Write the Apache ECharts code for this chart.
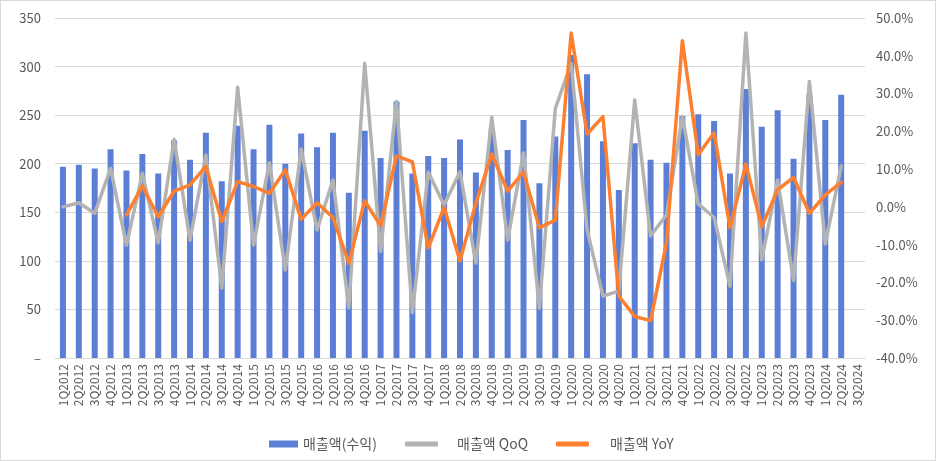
<!DOCTYPE html>
<html>
<head>
<meta charset="utf-8">
<script src="https://cdn.jsdelivr.net/npm/echarts@6/dist/echarts.min.js"></script>
<style>
  html, body { margin: 0; padding: 0; background: #fff; }
  #chart { width: 934px; height: 459px; border: 1px solid #d9d9d9; }
</style>
</head>
<body>
<div id="chart"></div>
<script>
const categories = ['1Q2012','2Q2012','3Q2012','4Q2012','1Q2013','2Q2013','3Q2013','4Q2013','1Q2014','2Q2014','3Q2014','4Q2014','1Q2015','2Q2015','3Q2015','4Q2015','1Q2016','2Q2016','3Q2016','4Q2016','1Q2017','2Q2017','3Q2017','4Q2017','1Q2018','2Q2018','3Q2018','4Q2018','1Q2019','2Q2019','3Q2019','4Q2019','1Q2020','2Q2020','3Q2020','4Q2020','1Q2021','2Q2021','3Q2021','4Q2021','1Q2022','2Q2022','3Q2022','4Q2022','1Q2023','2Q2023','3Q2023','4Q2023','1Q2024','2Q2024','3Q2024'];

const revenue = [197,199,195,215,193,210,190,224,204,232,182,239,215,240,200,231,217,232,170,234,206,264,190,208,206,225,191,236,214,245,180,228,312,292,223,173,221,204,201,249,251,244,190,277,238,255,205,271,245,271,null];

const qoq = [0,1.1,-1.7,10.2,-10.1,8.9,-9.5,17.9,-8.8,13.7,-21.5,31.7,-10.1,11.7,-16.7,15.3,-6.1,7.1,-26.7,38,-11.8,27.9,-28,9.2,0.5,9.3,-14.9,23.7,-8.8,14.3,-26.8,26,38,-6,-23.6,-22.3,28.3,-7.7,-2.1,23.9,0.8,-2.8,-21,46,-14,7.1,-19.5,33.2,-9.8,10.8,null];

const yoy = [null,null,null,null,-2.1,5.5,-2.6,4.2,5.8,10.7,-3.9,6.7,5.4,3.6,9.8,-3.3,1.1,-2.8,-14.9,1.6,-5,13.5,11.9,-10.9,-0.1,-14.3,1,14,4.2,9.2,-5.5,-3.5,46,19.3,23.9,-23.6,-29,-30.1,-9.6,44,13.8,19.6,-5.5,11.3,-5.2,4.5,7.8,-1.7,3.2,6.5,null];

const seriesNames = ['매출액(수익)', '매출액 QoQ', '매출액 YoY'];

const font = "'Noto Sans CJK KR', 'Noto Sans', sans-serif";
const labelColor = '#595959';

function legendFor(name, left, icon, w, h, pad) {
  return {
    left: left, top: 431, orient: 'horizontal',
    itemWidth: w, itemHeight: h, icon: icon,
    data: [name],
    textStyle: { color: labelColor, fontSize: 14, fontFamily: font, padding: [0, 0, 0, pad] }
  };
}

const chart = echarts.init(document.getElementById('chart'));
chart.setOption({
  animation: false,
  textStyle: { fontFamily: font },
  grid: { left: 54, right: 70, top: 17, bottom: 102, containLabel: false },
  legend: [
    legendFor(seriesNames[0], 263, 'rect', 29, 7, 0),
    legendFor(seriesNames[1], 399, 'roundRect', 33, 5, 14),
    legendFor(seriesNames[2], 550, 'roundRect', 33, 5, 16)
  ],
  xAxis: {
    type: 'category',
    data: categories,
    axisLine: { lineStyle: { color: '#d9d9d9', width: 1 } },
    axisTick: { show: false },
    axisLabel: {
      rotate: 90, interval: 0, color: labelColor, fontSize: 12, margin: 6, fontFamily: font
    }
  },
  yAxis: [
    {
      type: 'value', min: 0, max: 350, interval: 50,
      axisLine: { show: false }, axisTick: { show: false },
      splitLine: { lineStyle: { color: '#d9d9d9', width: 1 } },
      axisLabel: {
        color: labelColor, fontSize: 13, margin: 14, fontFamily: font,
        formatter: function (v) { return v === 0 ? '–' : String(v); }
      }
    },
    {
      type: 'value', min: -40, max: 50, interval: 10,
      axisLine: { show: false }, axisTick: { show: false },
      splitLine: { show: false },
      axisLabel: {
        color: labelColor, fontSize: 13, margin: 11, fontFamily: font,
        formatter: function (v) { return v.toFixed(1) + '%'; }
      }
    }
  ],
  series: [
    {
      name: seriesNames[0], type: 'bar', data: revenue, yAxisIndex: 0,
      barWidth: 6, itemStyle: { color: '#5b7fd7' }
    },
    {
      name: seriesNames[1], type: 'line', data: qoq, yAxisIndex: 1,
      showSymbol: false, symbol: 'none',
      lineStyle: { color: '#b3b3b3', width: 3.5, cap: 'round', join: 'round' },
      itemStyle: { color: '#b3b3b3' }
    },
    {
      name: seriesNames[2], type: 'line', data: yoy, yAxisIndex: 1,
      showSymbol: false, symbol: 'none',
      lineStyle: { color: '#fd7f30', width: 3.5, cap: 'round', join: 'round' },
      itemStyle: { color: '#fd7f30' }
    }
  ]
});
</script>
</body>
</html>
